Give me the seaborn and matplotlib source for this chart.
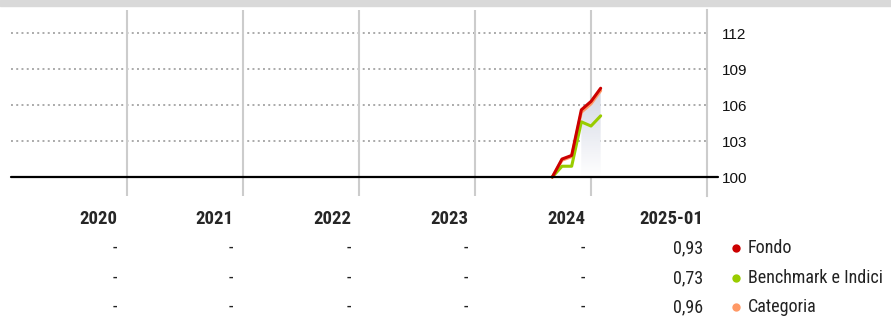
import numpy as np
import pandas as pd
import seaborn as sns
import matplotlib.pyplot as plt
from matplotlib.patches import Rectangle
import matplotlib.transforms as mtransforms

# monthly index values (base 100)
dates = ["2024-08", "2024-09", "2024-10", "2024-11", "2024-12", "2025-01"]
fondo = [100.0, 101.5, 101.8, 105.6, 106.3, 107.4]
benchmark = [100.0, 100.9, 100.9, 104.6, 104.25, 105.1]
categoria = [100.0, 101.4, 101.7, 105.4, 106.1, 107.2]

# table below the chart
years = ["2020", "2021", "2022", "2023", "2024", "2025-01"]
row_fondo = ["-", "-", "-", "-", "-", "0,93"]
row_bench = ["-", "-", "-", "-", "-", "0,73"]
row_cat = ["-", "-", "-", "-", "-", "0,96"]
series = ["Fondo", "Benchmark e Indici", "Categoria"]
yticks = [100, 103, 106, 109, 112]

palette = {"Fondo": "#cc0000",
           "Benchmark e Indici": "#99cc00",
           "Categoria": "#ff9966"}

# month index: end of month counted from Jan 2020
def month_idx(d):
    y, m = d.split("-")
    return (int(y) - 2020) * 12 + int(m)

x = [month_idx(d) for d in dates]
df = pd.DataFrame({"x": x * 3,
                   "value": categoria + benchmark + fondo,
                   "serie": ["Categoria"] * len(x) + ["Benchmark e Indici"] * len(x) + ["Fondo"] * len(x)})

sns.set_style("white")
plt.rcParams['font.family'] = ['Liberation Sans', 'DejaVu Sans']
narrow = ['Roboto Condensed', 'DejaVu Sans']

fig = plt.figure(figsize=(8.91, 3.2), dpi=100)
ax = fig.add_axes([11 / 891, 0.3875, 696 / 891, 0.58125])

# gray band on top
fig.patches.append(Rectangle((0, 1 - 6 / 320), 1, 6 / 320, transform=fig.transFigure,
                             color="#d9d9d9", zorder=0))

# shaded area under the fund line (gradient)
xs = np.array(x[3:])
ys = np.array(fondo[3:])
poly = ax.fill_between(xs, 100, ys, color="none", lw=0)
grad = np.linspace(0, 1, 100).reshape(-1, 1)
img = ax.imshow(grad, extent=[xs.min(), xs.max(), 100, ys.max()], aspect="auto",
                cmap=sns.blend_palette(["#ffffff", "#d3d7e4"], as_cmap=True),
                origin="lower", zorder=1)
img.set_clip_path(poly.get_paths()[0], transform=ax.transData)

sns.lineplot(data=df, x="x", y="value", hue="serie", palette=palette,
             hue_order=["Categoria", "Benchmark e Indici", "Fondo"],
             linewidth=2.2, legend=False, ax=ax, zorder=3)

ax.set_xlim(0, 72)
ax.set_ylim(98.42, 113.92)

# gridlines
for yy in yticks[1:]:
    ax.axhline(yy, color="#aaaaaa", lw=1.4, ls=(0, (1, 1.7)), zorder=0)
for xx in [12, 24, 36, 48, 60]:
    ax.axvline(xx, color="#cccccc", lw=1.5, zorder=0)
ax.axhline(100, color="black", lw=1.6, xmax=1.016, clip_on=False, zorder=4)

for pos in ['left', 'top', 'bottom']:
    ax.spines[pos].set_visible(False)
ax.spines['right'].set_color("#cccccc")
ax.spines['right'].set_linewidth(1.5)

ax.set_xticks([])
ax.yaxis.tick_right()
ax.set_yticks(yticks)
ax.set_yticklabels([str(t) for t in yticks], fontsize=11, color="#111111")
ax.tick_params(axis='y', length=0, pad=11)
ax.set_xlabel("")
ax.set_ylabel("")

# table below
trans = mtransforms.blended_transform_factory(ax.transData, fig.transFigure)
col_right = [11.0, 23.0, 35.2, 47.3, 59.4, 71.6]
rows_y = [0.3156, 0.225, 0.131, 0.0406]
for i, yr in enumerate(years):
    ax.text(col_right[i], rows_y[0], yr, transform=trans, ha="right", va="center",
            fontsize=13.5, fontweight="bold", family=narrow, clip_on=False)
    for r, row in enumerate([row_fondo, row_bench, row_cat]):
        ax.text(col_right[i], rows_y[r + 1], row[i], transform=trans, ha="right", va="center",
                fontsize=13, family=narrow, color="#222222", clip_on=False)

# legend
for r, s in enumerate(series):
    ax.scatter([736 / 891], [rows_y[r + 1]], s=36, color=palette[s], transform=fig.transFigure,
               clip_on=False, linewidths=0)
    fig.text(748 / 891, rows_y[r + 1], s, fontsize=13, family=narrow, color="#222222",
             ha="left", va="center")

plt.savefig("out.png", dpi=100)
